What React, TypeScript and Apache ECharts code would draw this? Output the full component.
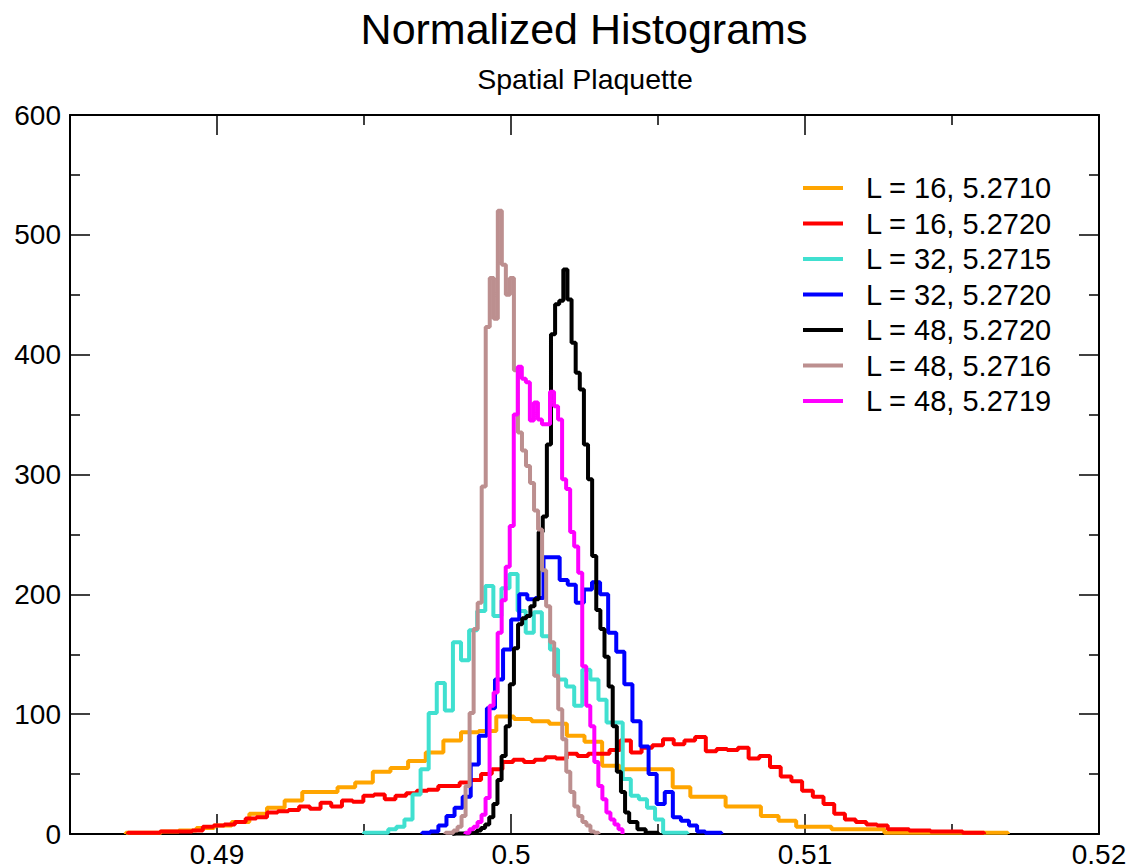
import React, { useEffect, useRef } from 'react';
import * as echarts from 'echarts';

const FONT = '"Liberation Sans", Arial, Helvetica, sans-serif';

const seriesNames = [
  'L = 16, 5.2710',
  'L = 16, 5.2720',
  'L = 32, 5.2715',
  'L = 32, 5.2720',
  'L = 48, 5.2720',
  'L = 48, 5.2716',
  'L = 48, 5.2719',
];
const seriesColors = ['#FFA500', '#FF0000', '#40E0D0', '#0000FF', '#000000', '#BC8F8F', '#FF00FF'];

// bin start and bin width for every histogram (same order as the names)
const binStarts = [0.4869, 0.48697, 0.495, 0.49698, 0.498, 0.49777, 0.49845];
const binWidths = [0.0006, 0.000364, 0.000275, 0.000275, 0.00014, 0.000137, 0.000137];

const orangeCounts = [
  1, 1, 2, 3, 5, 7, 10, 17, 22, 28,
  35, 35, 39, 43, 52, 55, 61, 68, 78, 85,
  86, 98, 96, 94, 92, 82, 77, 57, 54, 54,
  54, 39, 31, 31, 23, 23, 15, 11, 6, 6,
  4, 4, 4, 1, 1, 1, 1, 1, 1, 1,
];
const redCounts = [
  1, 1, 1, 2, 2, 2, 3, 6, 7, 8,
  10, 13, 14, 18, 19, 20, 23, 21, 26, 23,
  28, 27, 32, 33, 29, 32, 34, 36, 37, 40,
  40, 43, 45, 50, 54, 60, 62, 60, 62, 64,
  63, 67, 65, 67, 67, 70, 78, 68, 72, 74,
  79, 75, 78, 81, 69, 71, 70, 72, 63, 65,
  56, 48, 44, 36, 31, 25, 17, 12, 10, 8,
  7, 4, 4, 3, 3, 2, 2, 2, 1, 1,
];
const tealCounts = [
  1, 1, 1, 4, 6, 12, 33, 54, 101, 126,
  103, 160, 145, 170, 186, 207, 182, 205, 217, 186,
  168, 185, 165, 154, 129, 123, 107, 137, 129, 112,
  93, 93, 46, 32, 29, 22, 12, 1, 1, 1,
];
const blueCounts = [
  1, 2, 7, 15, 22, 31, 58, 82, 105, 129,
  154, 179, 200, 196, 197, 231, 231, 212, 208, 193,
  204, 210, 200, 168, 152, 125, 94, 73, 50, 25,
  35, 14, 11, 7, 2, 1, 1,
];
const blackCounts = [
  0.5, 0.5, 0.5, 0.5, 1, 1, 3, 5, 8, 14,
  25, 45, 65, 90, 125, 155, 175, 180, 182, 190,
  196, 252, 265, 325, 417, 442, 445, 471, 446, 410,
  385, 371, 325, 296, 232, 187, 171, 148, 123, 90,
  52, 35, 18, 10, 10, 4, 4, 1, 1, 1,
];
const brownCounts = [
  1, 1, 3, 6, 15, 40, 101, 171, 193, 290,
  423, 464, 430, 520, 475, 450, 464, 387, 335, 320,
  307, 293, 270, 254, 220, 190, 160, 132, 104, 79,
  52, 35, 23, 15, 10, 7, 2, 1,
];
const magentaCounts = [
  1, 4, 6, 10, 16, 30, 107, 118, 168, 195,
  223, 257, 350, 390, 380, 377, 345, 360, 346, 342,
  342, 369, 357, 346, 296, 288, 252, 240, 218, 140,
  107, 90, 60, 40, 29, 18, 12, 8, 4,
];

// series order matches legend order
const allCounts = [orangeCounts, redCounts, tealCounts, blueCounts, blackCounts, brownCounts, magentaCounts];

const xMajorTicks = [0.49, 0.5, 0.51, 0.52];
const xMinorTicks = [0.495, 0.505, 0.515];

function buildSteps(start: number, width: number, counts: number[]) {
  const pts: number[][] = [[start, 0]];
  counts.forEach((c, i) => pts.push([+(start + i * width).toFixed(7), c]));
  pts.push([+(start + counts.length * width).toFixed(7), 0]);
  return pts;
}

export default function App() {
  const ref = useRef<HTMLDivElement>(null);
  useEffect(() => {
    if (!ref.current) return;
    const chart = echarts.init(ref.current, undefined, { renderer: 'svg' });
    const axisLine = { show: true, onZero: false, lineStyle: { color: '#000', width: 2 } };
    const tickStyle = { color: '#000', width: 1.5 };
    const baseX = { type: 'value', min: 0.485, max: 0.52, splitLine: { show: false }, gridIndex: 0 };
    const option: any = {
      animation: false,
      backgroundColor: '#fff',
      textStyle: { fontFamily: FONT },
      grid: { left: 70, right: 32, top: 115, bottom: 33, containLabel: false },
      graphic: [
        {
          type: 'text', x: 584, y: 29, silent: true,
          style: { text: 'Normalized Histograms', fill: '#000', fontSize: 43, fontFamily: FONT, align: 'center', verticalAlign: 'middle' },
        },
        {
          type: 'text', x: 585, y: 79, silent: true,
          style: { text: 'Spatial Plaquette', fill: '#000', fontSize: 28.5, fontFamily: FONT, align: 'center', verticalAlign: 'middle' },
        },
      ],
      legend: {
        orient: 'vertical', left: 803, top: 173, padding: 0, icon: 'rect', itemWidth: 40, itemHeight: 4, itemGap: 5.5,
        selectedMode: false, data: seriesNames,
        textStyle: { fontSize: 29, color: '#000', fontFamily: FONT, lineHeight: 30, padding: [0, 0, 0, 18] },
      },
      xAxis: [
        {
          ...baseX, position: 'bottom', axisLine,
          axisTick: { show: true, inside: true, length: 20, customValues: xMajorTicks, lineStyle: tickStyle },
          axisLabel: {
            show: true, customValues: xMajorTicks, margin: 6, color: '#000', fontSize: 28, fontFamily: FONT,
            formatter: (v: number) => String(+v.toFixed(3)),
          },
        },
        {
          ...baseX, position: 'bottom', axisLine: { show: false, onZero: false },
          axisTick: { show: true, inside: true, length: 10, customValues: xMinorTicks, lineStyle: tickStyle },
          axisLabel: { show: false },
        },
        {
          ...baseX, position: 'top', axisLine,
          axisTick: { show: true, inside: true, length: 20, customValues: xMajorTicks, lineStyle: tickStyle },
          axisLabel: { show: false },
        },
        {
          ...baseX, position: 'top', axisLine: { show: false, onZero: false },
          axisTick: { show: true, inside: true, length: 10, customValues: xMinorTicks, lineStyle: tickStyle },
          axisLabel: { show: false },
        },
      ],
      yAxis: [
        {
          type: 'value', position: 'left', min: 0, max: 600, interval: 100, axisLine,
          axisTick: { show: true, inside: true, length: 20, lineStyle: tickStyle },
          minorTick: { show: true, splitNumber: 2, length: 10, lineStyle: tickStyle },
          axisLabel: { show: true, margin: 9, color: '#000', fontSize: 28, fontFamily: FONT, verticalAlign: 'middle', padding: [0, 0, 18, 0] },
          splitLine: { show: false },
        },
        {
          type: 'value', position: 'right', min: 0, max: 600, interval: 100, axisLine,
          axisTick: { show: true, inside: true, length: 20, lineStyle: tickStyle },
          minorTick: { show: true, splitNumber: 2, length: 10, lineStyle: tickStyle },
          axisLabel: { show: false },
          splitLine: { show: false },
        },
      ],
      series: seriesNames.map((name, i) => ({
        name,
        type: 'line',
        step: 'end',
        xAxisIndex: 0,
        yAxisIndex: 0,
        symbol: 'none',
        showSymbol: false,
        lineStyle: { color: seriesColors[i], width: 4 },
        itemStyle: { color: seriesColors[i] },
        data: buildSteps(binStarts[i], binWidths[i], allCounts[i]),
      })),
    };
    chart.setOption(option);
    return () => chart.dispose();
  }, []);
  return <div ref={ref} style={{ position: 'absolute', left: 0, top: 0, width: 1131, height: 868 }} />;
}
